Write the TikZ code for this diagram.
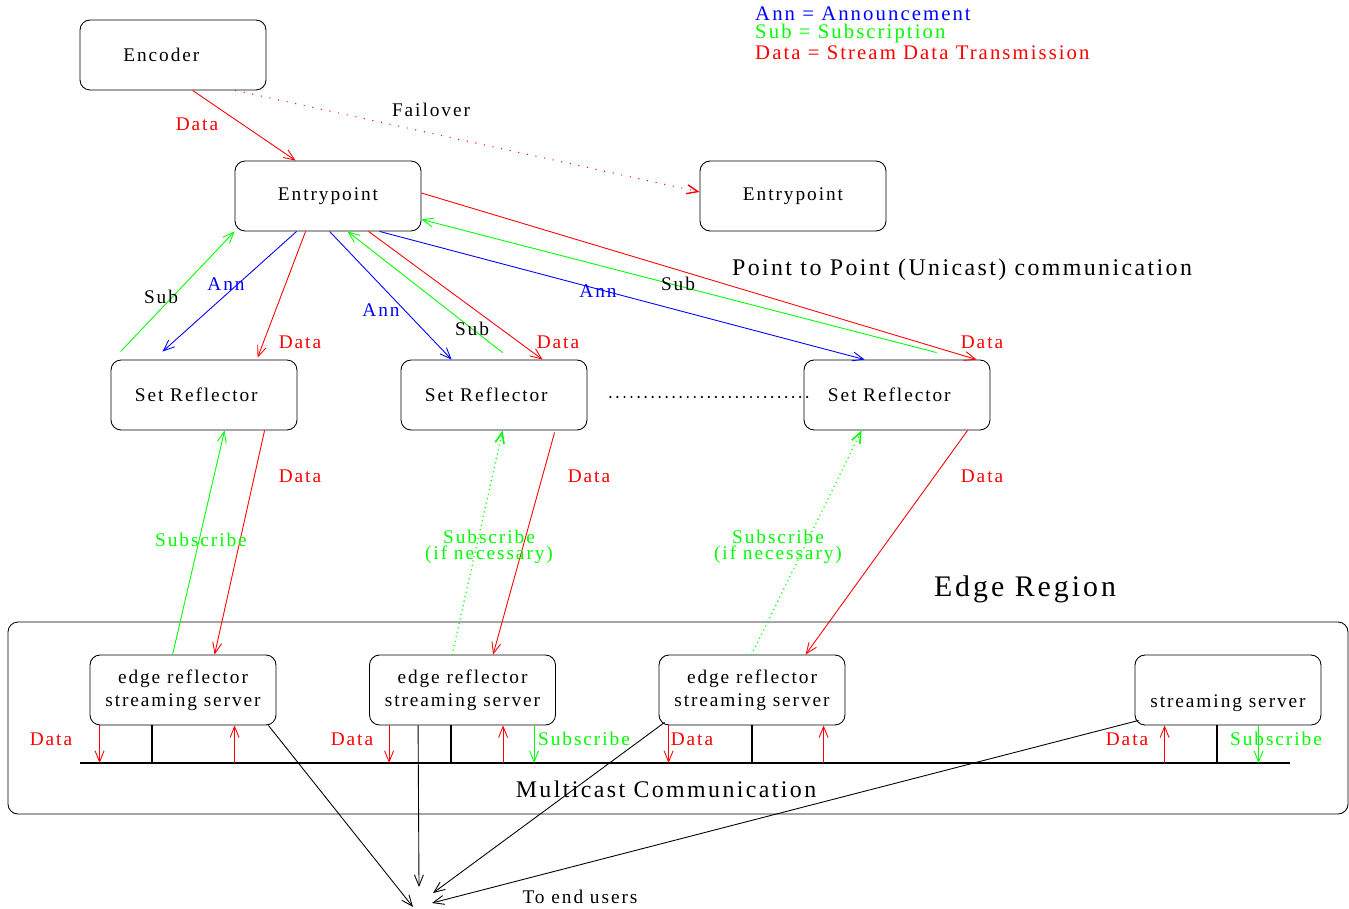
\documentclass[tikz,border=0pt]{standalone}
\usepackage{fontspec}
\setmainfont{Liberation Serif}[LetterSpace=10]
\usetikzlibrary{arrows.meta,calc}

\tikzset{
	box/.style={draw, rounded corners=0.2cm, minimum width=3.72cm, minimum height=1.4cm, line width=0.5pt, align=center},
	dataline/.style={red, line width=0.5pt},
	annline/.style={blue, line width=0.5pt},
	subline/.style={green, line width=0.5pt},
	subdots/.style={green, line width=0.9pt, line cap=round, dash pattern=on 0pt off 2.6pt},
	faildots/.style={red, line width=0.8pt, line cap=round, dash pattern=on 0pt off 5pt},
	tap/.style={line width=1.1pt},
	userline/.style={line width=0.5pt},
	bigtext/.style={font=\fontsize{13.6}{15}\selectfont},
	legend/.style={anchor=west, font=\fontsize{11.8}{13}\selectfont},
	twoline/.style={green, align=center, font=\fontsize{11}{7.2}\selectfont},
}

\begin{document}
\begin{tikzpicture}[x=0.02cm, y=-0.02cm, >={Straight Barb[length=2.2mm,width=1.8mm]}, font=\fontsize{11}{13}\selectfont]
	\useasboundingbox (0,0) rectangle (1349,909);
	
	% legend
	\node[legend, blue] (legann) at (749,14) {Ann = Announcement};
	\node[legend, green] (legsub) at (749,34) {Sub = Subscription};
	\node[legend, red] (legdata) at (749,53) {Data = Stream Data Transmission};
	
	% source and entry points
	\node[box] (enc) at (173,55) {Encoder\hspace*{1.2em}};
	\node[box] (ep) at (328,196) {Entrypoint};
	\node[box] (ep2) at (793,196) {Entrypoint};
	
	% set reflectors
	\node[box] (sr1) at (204,395) {Set Reflector\hspace*{0.8em}};
	\node[box] (sr2) at (494,395) {Set Reflector\hspace*{0.8em}};
	\node[box] (sr3) at (897,395) {Set Reflector\hspace*{0.8em}};
	\draw[line width=1.4pt, line cap=round, dash pattern=on 0pt off 4pt] ($(sr2.east)+(23,2)$) -- ($(sr3.west)+(4,2)$);
	
	% encoder to entrypoint
	\draw[dataline,->] ($(enc.south west)+(113,0)$) -- ($(ep.north west)+(61,0)$);
	\node[red] (lenc) at (197,124) {Data};
	\draw[faildots,->] ($(enc.south west)+(156,0)$) -- ($(ep2.west)+(0,-4)$);
	\node (lfail) at (431,110) {Failover};
	
	% entrypoint <-> set reflector 1
	\draw[subline,->] ($(sr1.north west)+(10,-8)$) -- (ep.south west);
	\draw[annline,->] ($(ep.south west)+(62,0)$) -- ($(sr1.north west)+(52,-8)$);
	\draw[dataline,->] ($(ep.south west)+(71,0)$) -- ($(sr1.north west)+(147,-2)$);
	\node (lsub1) at (161,297) {Sub};
	\node[blue] (lann1) at (226,284) {Ann};
	\node[red] (ldata1) at (300,342) {Data};
	
	% entrypoint <-> set reflector 2
	\draw[annline,->] ($(ep.south west)+(95,0)$) -- ($(sr2.north west)+(51,0)$);
	\draw[subline,->] ($(sr2.north west)+(102,-7)$) -- ($(ep.south west)+(113,0)$);
	\draw[dataline,->] ($(ep.south west)+(134,0)$) -- ($(sr2.north west)+(142,0)$);
	\node[blue] (lann2) at (381,310) {Ann};
	\node (lsub2) at (472,329) {Sub};
	\node[red] (ldata2) at (558,342) {Data};
	
	% entrypoint <-> set reflector 3
	\draw[annline,->] ($(ep.south west)+(145,0)$) -- ($(sr3.north west)+(61,0)$);
	\draw[subline,->] ($(sr3.north west)+(133,-7)$) -- ($(ep.south east)+(0,-12)$);
	\draw[dataline,->] ($(ep.east)+(0,-3)$) -- ($(sr3.north west)+(173,0)$);
	\node[blue] (lann3) at (598,291) {Ann};
	\node (lsub3) at (678,284) {Sub};
	\node[red] (ldata3) at (982,342) {Data};
	\node[bigtext] (lunicast) at (962,270) {Point to Point (Unicast) communication};
	
	% edge region
	\draw[line width=0.5pt, rounded corners=0.2cm] (8,622) rectangle (1348,814);
	\node[font=\fontsize{17}{19}\selectfont] (ledge) at (1025,589) {Edge Region};
	\node[box] (er1) at (183,690) {edge reflector\\streaming server};
	\node[box] (er2) at (462.5,690) {edge reflector\\streaming server};
	\node[box] (er3) at (752,690) {edge reflector\\streaming server};
	\node[box] (ss) at (1228,690) {\strut\\streaming server};
	
	% set reflector -> edge reflector
	\draw[subline,->] ($(er1.north west)+(83,0)$) -- ($(sr1.south west)+(114,0)$);
	\draw[dataline,->] ($(sr1.south west)+(154,0)$) -- ($(er1.north west)+(125,0)$);
	\node[green] (lsubs1) at (201,540) {Subscribe};
	\node[red] (ldatas1) at (300,476) {Data};
	
	\draw[subdots,->] ($(er2.north west)+(83,0)$) -- ($(sr2.south west)+(102,0)$);
	\draw[dataline,->] ($(sr2.south west)+(154,2)$) -- ($(er2.north west)+(124,0)$);
	\node[twoline] (lsubs2) at (489,547) {Subscribe\\(if necessary)};
	\node[red] (ldatas2) at (589,476) {Data};
	
	\draw[subdots,->] ($(er3.north west)+(93,0)$) -- ($(sr3.south west)+(58,0)$);
	\draw[dataline,->] ($(sr3.south west)+(164,0)$) -- ($(er3.north west)+(147,0)$);
	\node[twoline] (lsubs3) at (778,547) {Subscribe\\(if necessary)};
	\node[red] (ldatas3) at (982,476) {Data};
	
	% multicast bus
	\coordinate (busL) at (80,763);
	\coordinate (busR) at (1290,763);
	\draw[line width=0.8pt] (busL) -- (busR);
	\node[bigtext] (lmulti) at (666,789) {Multicast Communication};
	
	\draw[dataline,->] ($(er1.south west)+(10,0)$) coordinate (t) -- (t |- busL);
	\draw[tap] ($(er1.south west)+(62,0)$) coordinate (t) -- (t |- busL);
	\draw[dataline,<-] ($(er1.south west)+(145,0)$) coordinate (t) -- (t |- busL);
	\node[red] (lbus1) at (51,739) {Data};
	
	\draw[dataline,->] ($(er2.south west)+(20,0)$) coordinate (t) -- (t |- busL);
	\draw[tap] ($(er2.south west)+(82,0)$) coordinate (t) -- (t |- busL);
	\draw[dataline,<-] ($(er2.south west)+(134,0)$) coordinate (t) -- (t |- busL);
	\draw[subline,->] ($(er2.south west)+(165,0)$) coordinate (t) -- (t |- busL);
	\node[red] (lbus2) at (352,739) {Data};
	\node[green] (lbus3) at (584,739) {Subscribe};
	
	\draw[dataline,->] ($(er3.south west)+(10,0)$) coordinate (t) -- (t |- busL);
	\draw[tap] ($(er3.south west)+(93,0)$) coordinate (t) -- (t |- busL);
	\draw[dataline,<-] ($(er3.south west)+(165,0)$) coordinate (t) -- (t |- busL);
	\node[red] (lbus4) at (692,739) {Data};
	
	\draw[dataline,<-] ($(ss.south west)+(30,0)$) coordinate (t) -- (t |- busL);
	\draw[tap] ($(ss.south west)+(82,0)$) coordinate (t) -- (t |- busL);
	\draw[subline,->] ($(ss.south west)+(124,0)$) coordinate (t) -- (t |- busL);
	\node[red] (lbus5) at (1127,739) {Data};
	\node[green] (lbus6) at (1276,739) {Subscribe};
	
	% to end users
	\coordinate (u1) at (413,907);
	\coordinate (u2) at (419,887);
	\coordinate (u3) at (433,893);
	\coordinate (u4) at (432,903);
	\draw[userline,->] ($(er1.south east)+(-8,0)$) -- (u1);
	\draw[userline,->] ($(er2.south west)+(49,0)$) -- (u2);
	\draw[userline,->] ($(er3.south west)+(6,-3)$) -- (u3);
	\draw[userline,->] ($(ss.south west)+(4,-5)$) -- (u4);
	\node (lusers) at (580,897) {To end users};
\end{tikzpicture}
\end{document}
